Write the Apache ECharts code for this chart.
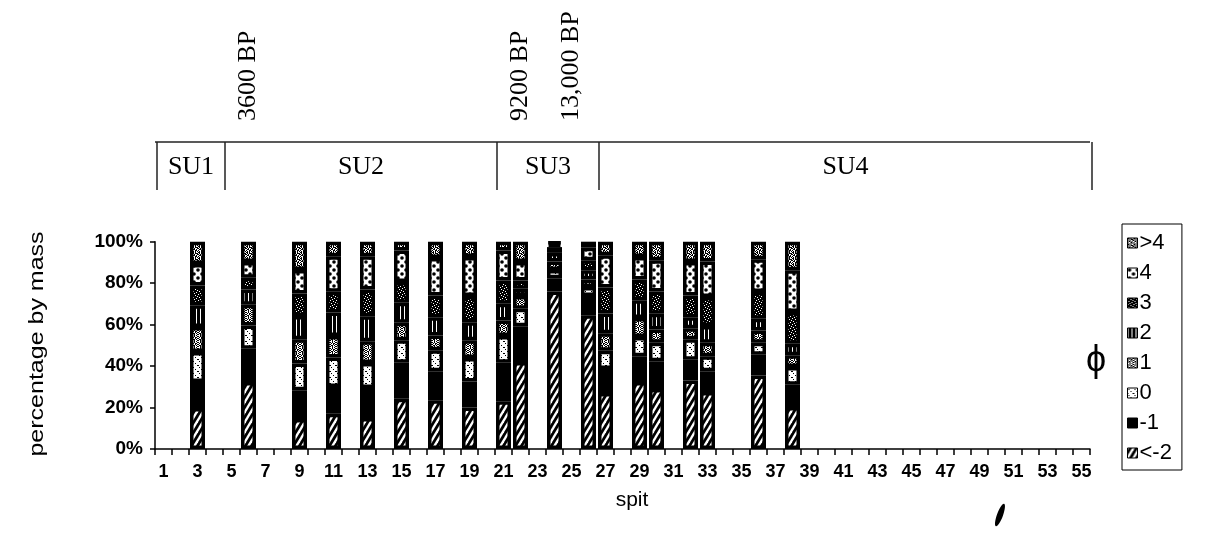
<!DOCTYPE html>
<html><head><meta charset="utf-8">
<script src="https://cdn.jsdelivr.net/npm/echarts@6/dist/echarts.min.js"></script>
<style>html,body{margin:0;padding:0;background:#fff}#c{width:1212px;height:534px}</style>
</head><body><div id="c"></div>
<script>
// ---- data ----
const spitLabels = ['1','2','3','4','5','6','7','8','9','10','11','12','13','14','15','16','17','18','19','20',
  '21','22','23','24','25','26','27','28','29','30','31','32','33','34','35','36','37','38','39','40',
  '41','42','43','44','45','46','47','48','49','50','51','52','53','54','55'];
const sampledSpits = ['3','6','9','11','13','15','17','19','21','22','24','26','27','29','30','32','33','36','38'];
const classNames = ['<-2','-1','0','1','2','3','4','>4'];
const phiLtM2 = [19.8,32.3,14.5,17,15,24.3,23.5,20,23,42,76,64.5,27,32.3,29,33.1,27.5,35.5,20.3];
const phiM1   = [12.5,16.1,13.9,12.9,14.4,17.3,14,12.6,18.6,17.2,6.4,9.3,11.6,12.5,13.3,10,10,10,10.7];
const phi0    = [14.5,11.2,12.8,14.2,12.1,10.8,10.1,11.3,12.9,8.5,3.9,4.3,8.8,9.2,9,9.8,7.3,5.8,8.5];
const phi1    = [12,10,11.8,10.4,10.5,8.5,7.2,8.5,7.5,6.1,4.2,3.7,8.4,9.2,6.4,5.4,6.5,5.9,5.7];
const phi2    = [10.5,7.4,11.1,11.3,12,9.6,8.8,8.8,8.1,3.5,4.1,4.4,9.6,8.5,7.5,5.3,8,5.6,5.6];
const phi3    = [9.6,5.6,10.9,10.1,13,10,10.5,12.6,11.2,4,2.8,4.8,12.5,10.1,10.8,10.5,14,12.9,15.3];
const phi4    = [10.4,7.6,11.3,17.1,16,15.3,18,18.8,14.5,8.9,1.5,6.1,15.6,10.8,15,16.1,17.2,15.8,20.1];
const phiGt4  = [10.7,9.8,13.7,7,7,4.2,7.9,7.4,4.2,9.8,1.1,2.9,6.5,7.4,9,9.8,9.5,8.5,13.8];
const unitNames = ['SU1','SU2','SU3','SU4'];
const unitBreakAfter = [4,20,26];
const dateSpits = ['6','22','25'];
const dateLabels = ['3600 BP','9200 BP','13,000 BP'];

// ---- patterns ----
function pix(rows, bg, fg){
  const h=rows.length,w=rows[0].length;
  const c=document.createElement('canvas');c.width=w;c.height=h;
  const g=c.getContext('2d');g.fillStyle=bg;g.fillRect(0,0,w,h);g.fillStyle=fg;
  for(let y=0;y<h;y++)for(let x=0;x<w;x++) if(rows[y][x]==='#') g.fillRect(x,y,1,1);
  return c;
}
function hatch(){
  const w=6,h=10,c=document.createElement('canvas');c.width=w;c.height=h;
  const g=c.getContext('2d');g.fillStyle='#000';g.fillRect(0,0,w,h);
  g.strokeStyle='#fff';g.lineWidth=2.4;
  for(let k=-1;k<=1;k++){g.beginPath();g.moveTo(k*w-w*0.2,h+h*0.2);g.lineTo(k*w+w*1.2,-h*0.2);g.stroke();}
  return c;
}
function polka(){
  const c=document.createElement('canvas');c.width=8;c.height=8;
  const g=c.getContext('2d');g.fillStyle='#fff';g.fillRect(0,0,8,8);g.fillStyle='#000';
  [[2,2],[6,6]].forEach(p=>{g.beginPath();g.arc(p[0],p[1],1.8,0,Math.PI*2);g.fill();});
  return c;
}
const pat = c => ({image:c, repeat:'repeat'});
const patterns = {
  '<-2': pat(hatch()),
  '-1': '#000',
  '0': pat(pix(['......','.#....','......','...#..','......','#....#'],'#fff','#000')),
  '1': pat(pix(['#.#..#','.#.##.','#..#.#','.##.#.','#.#..#','..#.#.'],'#fff','#000')),
  '2': pat(pix(['#...'],'#000','#fff')),
  '3': pat(pix(['#.....','...#..','.....#','.#....','....#.','..#...'],'#000','#fff')),
  '4': pat(polka()),
  '>4': pat(pix(['##.#..','.#.###','#.#..#','.##.#.','#..##.','.#.#.#'],'#fff','#000'))
};

// ---- build table ----
const classValues = [phiLtM2, phiM1, phi0, phi1, phi2, phi3, phi4, phiGt4];
function fullRow(vals){ return spitLabels.map(s => { const i = sampledSpits.indexOf(s); return i < 0 ? null : vals[i]; }); }

const chart = echarts.init(document.getElementById('c'), null, {renderer:'canvas'});
const series = classNames.map((n, i) => ({
  name: n, type: 'bar', stack: 'all', barWidth: 15,
  data: fullRow(classValues[i]),
  itemStyle: { color: patterns[n], borderColor: '#000', borderWidth: 3.5 },
  emphasis: { disabled: true }, animation: false
}));

chart.setOption({
  animation: false,
  backgroundColor: '#fff',
  grid: { left: 155, right: 122, top: 241.7, bottom: 85 },
  xAxis: {
    type: 'category', data: spitLabels,
    axisLine: { lineStyle: { color: '#000', width: 1.5 } },
    axisTick: { show: true, interval: 0, length: 6, lineStyle: { color: '#000', width: 1.5 } },
    axisLabel: { interval: 1, color: '#000', fontSize: 18, fontWeight: 'bold', fontFamily: 'Liberation Sans', margin: 14 }
  },
  yAxis: {
    type: 'value', min: 0, max: 100, interval: 20,
    axisLine: { show: true, lineStyle: { color: '#000', width: 1.5 } },
    axisTick: { show: true, length: 5, lineStyle: { color: '#000', width: 1.5 } },
    splitLine: { show: false },
    axisLabel: { formatter: '{value}%', color: '#000', fontSize: 19, fontWeight: 'bold', fontFamily: 'Liberation Sans', margin: 12 }
  },
  legend: {
    orient: 'vertical', left: 1122, top: 224, data: classNames.slice().reverse(),
    icon: 'rect', itemWidth: 10, itemHeight: 10, itemGap: 8,
    padding: [8, 10, 6, 5], borderColor: '#000', borderWidth: 1,
    selectedMode: false,
    itemStyle: { borderColor: '#000', borderWidth: 1 },
    textStyle: { fontFamily: 'Liberation Sans', fontSize: 22, color: '#000', padding: [0, 0, 0, -3] }
  },
  series: series
});

// ---- annotations positioned through the category scale ----
const cx = s => chart.convertToPixel({ xAxisIndex: 0 }, s);
const band = cx('2') - cx('1');
const boundaryAfter = k => cx(String(k)) + band / 2;
const leftX = cx('1') - band / 2, rightX = boundaryAfter(55);
const boxTop = 142, boxBottom = 190;
const divs = [leftX].concat(unitBreakAfter.map(boundaryAfter)).concat([rightX]);
const els = [];
els.push({ type: 'line', shape: { x1: leftX, y1: boxTop, x2: rightX, y2: boxTop }, style: { stroke: '#222', lineWidth: 1.5 } });
divs.forEach(x => els.push({ type: 'line', shape: { x1: x + 2, y1: boxTop, x2: x + 2, y2: boxBottom }, style: { stroke: '#222', lineWidth: 1.5 } }));
unitNames.forEach((n, i) => els.push({ type: 'text', x: (divs[i] + divs[i + 1]) / 2 + 2, y: 167,
  style: { text: n, font: '26px "Liberation Serif"', fill: '#000', textAlign: 'center', textVerticalAlign: 'middle' } }));
dateSpits.forEach((s, i) => els.push({ type: 'text', x: cx(s), y: 121, rotation: Math.PI / 2,
  style: { text: dateLabels[i], font: '26px "Liberation Serif"', fill: '#000', textAlign: 'left', textVerticalAlign: 'middle' } }));
els.push({ type: 'text', x: 37, y: 344, rotation: Math.PI / 2, scaleX: 1.25,
  style: { text: 'percentage by mass', font: '20px "Liberation Sans"', fill: '#000', textAlign: 'center', textVerticalAlign: 'middle' } });
els.push({ type: 'text', x: 632, y: 500,
  style: { text: 'spit', font: '21px "Liberation Sans"', fill: '#000', textAlign: 'center', textVerticalAlign: 'middle' } });
els.push({ type: 'text', x: 1096, y: 361,
  style: { text: 'ϕ', font: '36px "Liberation Sans"', fill: '#000', textAlign: 'center', textVerticalAlign: 'middle' } });
els.push({ type: 'ellipse', shape: { cx: 1000, cy: 515, rx: 3, ry: 12 }, rotation: -0.35, originX: 1000, originY: 515, style: { fill: '#000' } });
chart.setOption({ graphic: { elements: els } });
</script></body></html>
